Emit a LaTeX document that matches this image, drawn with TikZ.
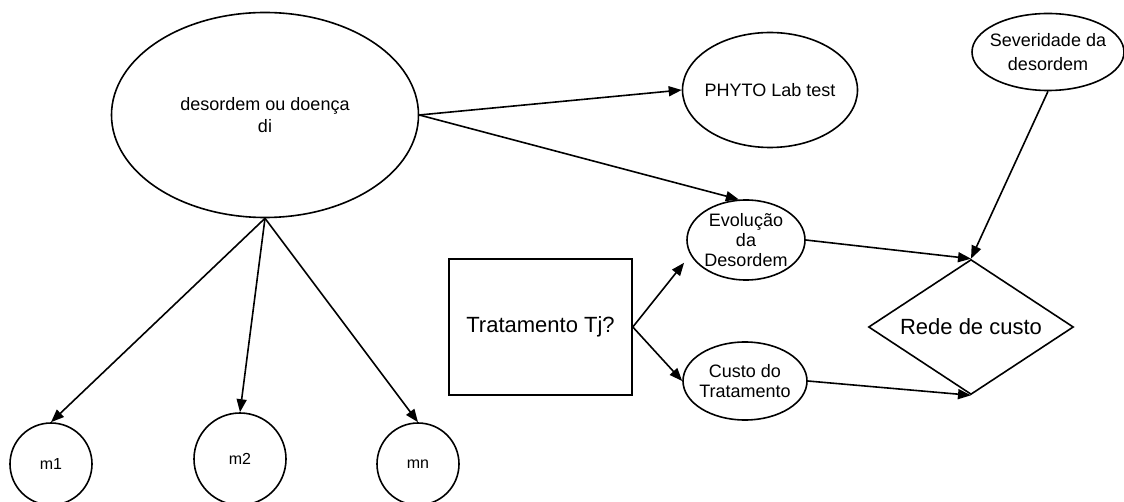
\documentclass[tikz,border=0pt]{standalone}
\usepackage{fontspec}
\setmainfont{Liberation Sans}
\usetikzlibrary{shapes.geometric,arrows.meta}

\begin{document}
\begin{tikzpicture}[x=0.75pt, y=-0.75pt, font=\fontsize{13.5}{16.5}\selectfont,
Blob/.style={ellipse, draw, line width=1.2pt, inner sep=0pt},
Choice/.style={draw, line width=1.2pt, minimum width=137.25pt, minimum height=102pt, font=\fontsize{16.5}{19}\selectfont},
CostNet/.style={diamond, draw, line width=1.2pt, inner sep=0pt, minimum width=153.75pt, minimum height=101.25pt},
Link/.style={-{Triangle[length=9.75pt, width=7.5pt]}, line width=1.2pt}]

\useasboundingbox (0,0) rectangle (1124,502);

\node[Blob, minimum width=230.25pt, minimum height=153.75pt, label={[align=center]center:{desordem ou doença\\di}}] (dis) at (265,115) {};
\node[Blob, minimum width=131.25pt, minimum height=86.25pt, label={center:PHYTO Lab test}] (phyto) at (770,90) {};
\node[Blob, minimum width=114pt, minimum height=57.75pt, label={[align=center, font=\fontsize{13.5}{17.5}\selectfont]center:{Severidade da\\desordem}}] (sev) at (1048,52) {};

\node[Blob, minimum width=88.5pt, minimum height=60pt, label={[align=center, font=\fontsize{13.5}{15}\selectfont]center:{Evolução\\da\\Desordem}}] (evo) at (746,240) {};
\node[Blob, minimum width=93pt, minimum height=58.5pt, label={[align=center, font=\fontsize{13.5}{15}\selectfont]center:{Custo do\\Tratamento}}] (custo) at (745,381) {};

\node[Choice] (trat) at (540.5,327) {Tratamento Tj?};
\node[CostNet, label={[font=\fontsize{16.5}{19}\selectfont]center:Rede de custo}] (rede) at (971,327) {};

% medidas
\node[Blob, minimum size=61.5pt, label={[font=\fontsize{12}{14}\selectfont]center:m1}] (m1) at (51,464) {};
\node[Blob, minimum size=69pt, label={[font=\fontsize{12}{14}\selectfont]center:m2}] (m2) at (240,459) {};
\node[Blob, minimum size=61.5pt, label={[font=\fontsize{12}{14}\selectfont]center:mn}] (mn) at (418,464) {};

\draw[Link] (dis.east) -- (phyto.west);
\draw[Link] (dis.east) -- (evo.100);
\draw[Link] (dis.south) -- (m1.north);
\draw[Link] (dis.south) -- (m2.north);
\draw[Link] (dis.south) -- (mn.north);
\draw[Link, shorten >=7.5pt] (trat.east) -- (evo.195);
\draw[Link] (trat.east) -- (custo.west);
\draw[Link] (evo.east) -- (rede.north);
\draw[Link] (custo.east) -- (rede.south);
\draw[Link] (sev.south) -- (rede.north);

\end{tikzpicture}
\end{document}
